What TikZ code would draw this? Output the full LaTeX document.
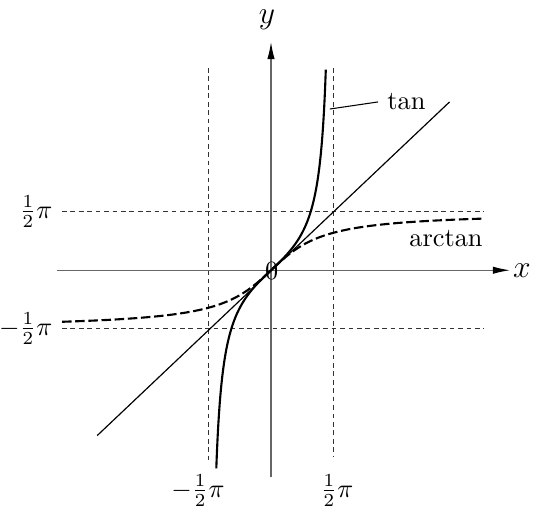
\documentclass[tikz,border=0pt]{standalone}
\usetikzlibrary{arrows.meta}
\begin{document}
\begin{tikzpicture}[x=15pt,y=14.14pt,
  axis/.style={draw=black!60,line width=0.45pt},
  guide/.style={draw=black!80,line width=0.4pt,dash pattern=on 1.8pt off 1.4pt},
  curve/.style={draw=black,line width=0.8pt},
  tip/.style={-{Latex[length=6.5pt,width=2.8pt,color=black]}}]
\useasboundingbox (-6.861,-6.398) rectangle (6.911,7.258);
% guides
\draw[guide] (-5.29,1.5708) -- (5.39,1.5708);
\draw[guide] (-5.29,-1.5708) -- (5.39,-1.5708);
\draw[guide] (-1.5708,5.43) -- (-1.5708,-5.2);
\draw[guide] (1.5708,5.43) -- (1.5708,-5.0);
% axes
\coordinate (xs) at (-5.42,0);
\coordinate (xe) at (6.05,0);
\coordinate (ys) at (0,-5.56);
\coordinate (ye) at (0,6.13);
\draw[axis,tip] (xs) -- (xe);
\draw[axis,tip] (ys) -- (ye);
\node (xl) at (6.35,0) {\large $x$};
\node (yl) at (-0.1,6.72) {\large $y$};
% diagonal
\draw[black,line width=0.45pt] (-4.4,-4.44) -- (4.52,4.52);
% tan
\draw[curve,domain=-1.385:1.389,samples=200,smooth,variable=\t] plot ({\t},{tan(\t r)});
% arctan
\draw[curve,dash pattern=on 3.6pt off 1.4pt,domain=-5.29:5.39,samples=100,smooth,variable=\t] plot ({\t},{rad(atan(\t))});
% labels
\node (zero) at (0.02,-0.02) {$0$};
\coordinate (tp) at (1.49,4.33);
\coordinate (te) at (2.71,4.52);
\draw[black,line width=0.4pt] (tp) -- (te);
\node[anchor=west] (tanl) at (te) {tan};
\node (arcl) at (4.43,0.86) {arctan};
\node[anchor=east] (pyl) at (-5.3,1.57) {$\frac{1}{2}\pi$};
\node[anchor=east] (nyl) at (-5.3,-1.57) {$-\frac{1}{2}\pi$};
\node (nxl) at (-1.85,-5.92) {$-\frac{1}{2}\pi$};
\node (pxl) at (1.67,-5.92) {$\frac{1}{2}\pi$};
\end{tikzpicture}
\end{document}
